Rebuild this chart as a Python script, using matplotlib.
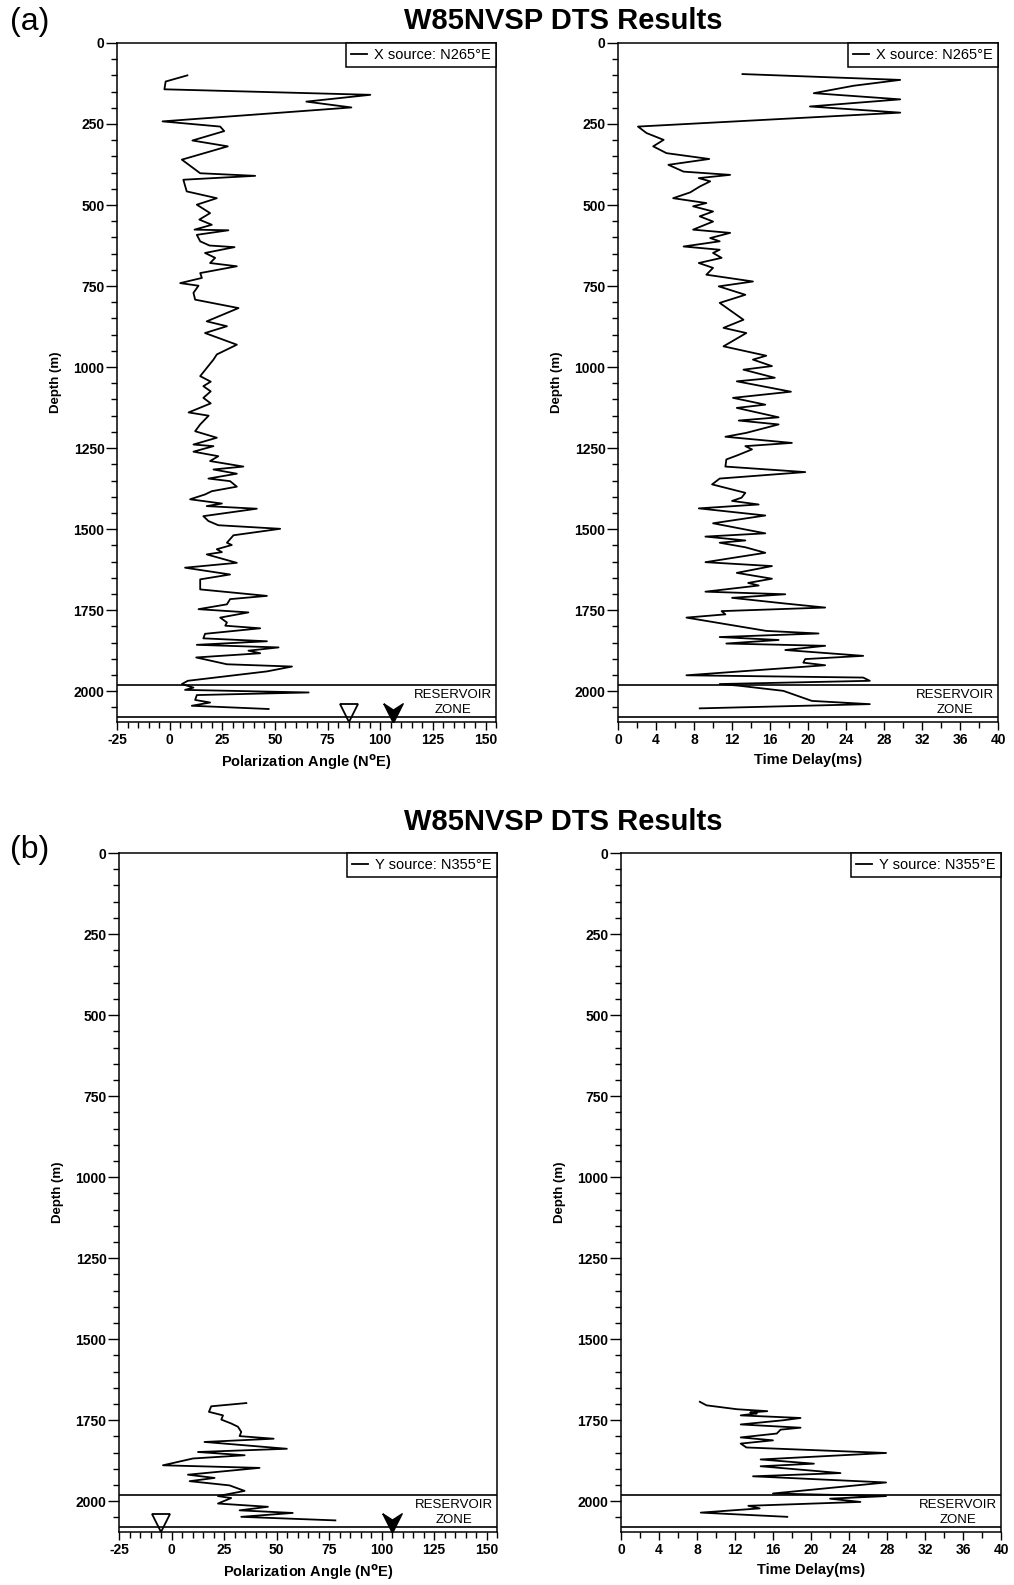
import matplotlib
matplotlib.use('Agg')
from matplotlib import pyplot as plt
from matplotlib.ticker import MultipleLocator

plt.rcParams['font.family'] = ['Liberation Sans', 'DejaVu Sans']
plt.rcParams['font.weight'] = 'bold'
plt.rcParams['axes.labelweight'] = 'bold'
plt.rcParams['axes.unicode_minus'] = False

# X source (N265E): polarization angle and time delay logs
x_pol_depth = [100, 119, 143, 160, 181, 199, 242, 258, 272, 301, 319, 360, 402, 410, 422,
               458, 479, 499, 525, 545, 561, 576, 578, 592, 612, 625, 630, 648, 663, 679,
               689, 710, 725, 741, 749, 771, 792, 818, 859, 874, 895, 931, 961, 977, 1028,
               1045, 1059, 1075, 1095, 1112, 1140, 1150, 1177, 1198, 1218, 1239, 1244, 1261,
               1275, 1290, 1307, 1316, 1329, 1344, 1352, 1369, 1383, 1393, 1408, 1421, 1429,
               1437, 1460, 1475, 1488, 1499, 1519, 1542, 1549, 1562, 1571, 1578, 1604, 1619,
               1640, 1655, 1686, 1706, 1716, 1732, 1747, 1757, 1773, 1788, 1798, 1806, 1823,
               1837, 1846, 1857, 1865, 1875, 1883, 1896, 1917, 1924, 1939, 1968, 1978, 1989,
               1996, 2004, 2012, 2027, 2035, 2045, 2055]
x_pol_angle = [8.4, -1.9, -2.5, 95.3, 64.9, 86.3, -3.4, 24.0, 25.9, 10.8, 27.6, 5.8, 14.5, 40.6, 6.5,
               8.1, 22.4, 12.9, 19.2, 14.1, 20.0, 11.8, 27.9, 12.9, 14.5, 18.9, 30.8, 16.8, 21.6, 19.2,
               31.9, 14.5, 15.3, 5.0, 13.7, 11.3, 12.1, 32.7, 17.6, 27.2, 16.8, 31.9, 22.4, 20.8, 14.5,
               19.5, 16.0, 19.5, 16.0, 19.5, 9.0, 18.5, 14.5, 12.1, 22.4, 11.3, 20.8, 11.3,
               23.1, 19.2, 35.0, 20.8, 31.9, 18.4, 28.7, 31.9, 20.0, 16.8, 9.7, 24.8, 17.6,
               41.4, 16.0, 18.4, 23.1, 52.5, 30.3, 27.2, 29.5, 22.4, 24.8, 17.6, 31.9, 7.3,
               28.7, 14.5, 14.5, 46.2, 28.7, 27.2, 13.7, 37.4, 24.0, 27.2, 26.4, 43.0, 16.8,
               16.0, 46.2, 12.9, 51.7, 37.4, 43.0, 12.6, 27.2, 58.1, 46.2, 8.6, 5.8, 11.3,
               7.3, 66.0, 12.9, 12.1, 19.2, 10.5, 47.0]

x_dt_depth = [96, 114, 132, 155, 174, 196, 215, 258, 278, 299, 319, 340, 358, 376, 397, 407,
              417, 427, 443, 461, 479, 494, 504, 520, 535, 551, 576, 586, 602, 612, 628, 638,
              648, 663, 679, 694, 715, 736, 751, 777, 802, 854, 879, 895, 936, 965, 977, 997,
              1008, 1033, 1044, 1076, 1095, 1116, 1126, 1155, 1165, 1177, 1203, 1215, 1234,
              1244, 1254, 1273, 1285, 1307, 1324, 1344, 1362, 1388, 1403, 1413, 1424, 1436,
              1458, 1482, 1513, 1523, 1535, 1542, 1556, 1573, 1602, 1614, 1635, 1653, 1666,
              1674, 1693, 1701, 1712, 1729, 1742, 1753, 1763, 1773, 1814, 1822, 1833, 1842,
              1853, 1860, 1873, 1891, 1901, 1912, 1920, 1951, 1958, 1968, 1978, 1983, 1999,
              2030, 2040, 2053]
x_dt_ms = [13.1, 29.7, 24.8, 20.6, 29.7, 20.2, 29.7, 2.1, 3.0, 4.8, 3.7, 5.1, 9.6, 5.3, 6.9, 11.8,
           8.5, 9.7, 8.6, 7.6, 5.8, 9.3, 7.9, 10.0, 8.6, 10.0, 7.9, 11.8, 9.7, 10.7, 6.9, 10.7,
           10.0, 10.9, 8.5, 10.0, 9.3, 14.2, 10.6, 13.4, 10.7, 13.2, 11.1, 13.5, 11.1, 15.6, 14.2, 16.2,
           13.2, 16.5, 12.5, 18.2, 12.1, 15.5, 12.5, 16.9, 12.7, 16.9, 13.5, 11.3, 18.3,
           13.4, 14.1, 12.5, 11.4, 11.3, 19.7, 10.7, 9.9, 13.4, 13.0, 12.0, 14.8, 8.5,
           15.5, 10.0, 15.5, 9.2, 13.4, 10.7, 13.4, 15.5, 9.2, 16.2, 12.5, 16.2, 13.7,
           14.8, 9.2, 17.6, 12.0, 17.4, 21.8, 10.9, 11.3, 7.2, 15.6, 21.1, 10.7, 16.9,
           11.4, 21.8, 17.6, 25.8, 19.7, 19.5, 21.8, 7.2, 25.8, 26.5, 10.7, 12.7, 17.4,
           20.4, 26.5, 8.6]

# Y source (N355E)
y_pol_depth = [1697, 1707, 1724, 1735, 1748, 1760, 1770, 1786, 1799, 1807, 1817, 1838, 1848,
               1858, 1868, 1889, 1897, 1918, 1928, 1938, 1951, 1968, 1984, 1990, 2007, 2017,
               2028, 2036, 2048, 2059]
y_pol_angle = [35.6, 18.9, 17.8, 24.5, 23.7, 28.4, 31.6, 33.2, 32.4, 48.6, 15.7, 54.9, 12.6,
               34.8, 10.2, -4.1, 41.9, 7.8, 20.5, 8.6, 27.6, 34.8, 22.1, 28.4, 22.1, 45.9,
               32.4, 57.7, 33.2, 78.0]

y_dt_depth = [1693, 1704, 1716, 1722, 1726, 1729, 1735, 1743, 1750, 1763, 1773, 1779, 1791,
              1803, 1812, 1822, 1834, 1851, 1871, 1884, 1892, 1913, 1923, 1942, 1976, 1984,
              1992, 2002, 2014, 2022, 2035, 2048]
y_dt_ms = [8.3, 9.0, 12.2, 15.4, 13.6, 14.3, 12.6, 18.9, 17.1, 12.6, 18.9, 16.8, 16.4,
           12.6, 16.0, 12.6, 13.2, 27.9, 14.7, 20.3, 14.7, 23.1, 13.9, 27.9, 16.0, 27.9,
           22.0, 25.2, 13.4, 14.6, 8.4, 17.5]

reservoir_top = 1980
reservoir_base = 2080
marker_depth = 2066
x_open_arrow, x_filled_arrow = 85, 106
y_open_arrow, y_filled_arrow = -5, 105

arrow_head = [(-1, 1), (0, -1), (1, 1), (0, 0.35), (-1, 1)]


def style_depth_axis(ax):
    ax.set_ylim(2095, 0)
    ax.yaxis.set_major_locator(MultipleLocator(250))
    ax.yaxis.set_minor_locator(MultipleLocator(50))
    ax.tick_params(axis='y', which='major', length=8, width=1.0, labelsize=10, pad=1)
    ax.tick_params(axis='y', which='minor', length=4, width=1.0)
    ax.tick_params(axis='x', which='major', length=6, width=1.0, labelsize=10, pad=2)
    ax.tick_params(axis='x', which='minor', length=4, width=1.0)
    ax.set_ylabel('Depth (m)', fontsize=9.5)
    ax.yaxis.set_label_coords(-0.145, 0.5)
    for sp in ax.spines.values():
        sp.set_linewidth(1.1)
    ax.axhline(reservoir_top, color='black', lw=1.2)
    ax.axhline(reservoir_base, color='black', lw=1.2)
    ax.text(0.886, 0.0285, 'RESERVOIR\nZONE', transform=ax.transAxes, ha='center',
            va='center', fontsize=9.5, fontweight='normal', linespacing=1.3)


def draw_angle(ax, angle, depth, label, open_x, filled_x):
    ax.plot(angle, depth, color='black', lw=1.3, label=label)
    ax.set_xlim(-25, 155)
    ax.xaxis.set_major_locator(MultipleLocator(25))
    ax.xaxis.set_minor_locator(MultipleLocator(5))
    ax.set_xlabel('Polarization Angle (N$^\\mathbf{o}$E)', fontsize=10.5, labelpad=4)
    ax.plot(open_x, marker_depth, marker='v', ms=13, mfc='white', mec='black', mew=1.3)
    ax.plot(filled_x, marker_depth, marker=arrow_head, ms=14, mfc='black', mec='black')
    style_depth_axis(ax)
    add_legend(ax)


def draw_delay(ax, delay, depth, label):
    ax.plot(delay, depth, color='black', lw=1.3, label=label)
    ax.set_xlim(0, 40)
    ax.xaxis.set_major_locator(MultipleLocator(4))
    ax.xaxis.set_minor_locator(MultipleLocator(2))
    ax.set_xlabel('Time Delay(ms)', fontsize=10.5, labelpad=4)
    style_depth_axis(ax)
    add_legend(ax)


def add_legend(ax):
    leg = ax.legend(loc='upper right', fancybox=False, edgecolor='black', framealpha=1,
                    borderaxespad=0, handlelength=1.1, handletextpad=0.5, borderpad=0.35,
                    prop={'size': 10.5, 'weight': 'normal'})
    leg.get_frame().set_linewidth(1.1)


fig = plt.figure(figsize=(10.14, 15.85), dpi=100)
ax_a1 = fig.add_axes([0.1154, 0.5445, 0.3738, 0.4284])
ax_a2 = fig.add_axes([0.6095, 0.5445, 0.3748, 0.4284])
ax_b1 = fig.add_axes([0.1174, 0.0334, 0.3728, 0.4284])
ax_b2 = fig.add_axes([0.6124, 0.0334, 0.3748, 0.4284])

draw_angle(ax_a1, x_pol_angle, x_pol_depth, 'X source: N265°E', x_open_arrow, x_filled_arrow)
draw_delay(ax_a2, x_dt_ms, x_dt_depth, 'X source: N265°E')
draw_angle(ax_b1, y_pol_angle, y_pol_depth, 'Y source: N355°E', y_open_arrow, y_filled_arrow)
draw_delay(ax_b2, y_dt_ms, y_dt_depth, 'Y source: N355°E')

for ypos in (0.987, 0.4815):
    fig.text(0.555, ypos, 'W85NVSP DTS Results', ha='center', va='center',
             fontsize=21, fontweight='bold')
for ypos, tag in [(0.986, '(a)'), (0.464, '(b)')]:
    fig.text(0.0296, ypos, tag, ha='center', va='center', fontsize=23, fontweight='normal')

fig.savefig('out.png', dpi=100)
